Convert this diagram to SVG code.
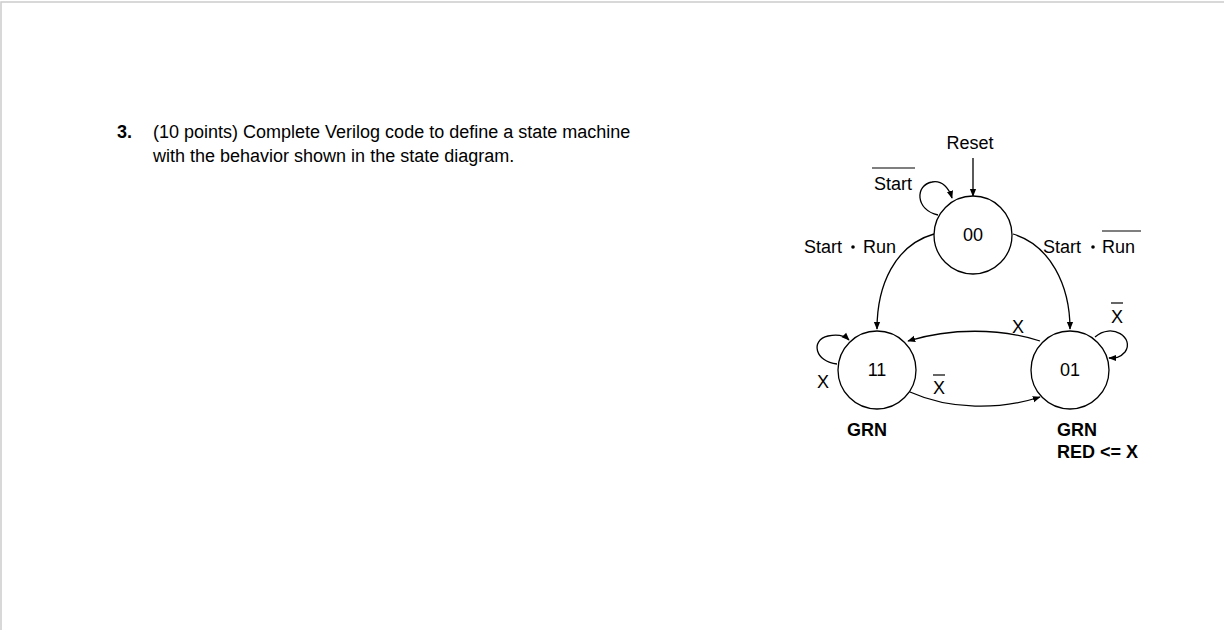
<svg xmlns="http://www.w3.org/2000/svg" width="1224" height="630" viewBox="0 0 1224 630">
<defs><marker id="a" viewBox="0 0 10 10" refX="9" refY="5" markerWidth="8" markerHeight="8" orient="auto" markerUnits="userSpaceOnUse"><path d="M0,1 L10,5 L0,9 z" fill="#000"/></marker></defs>
<style>text{font-family:"Liberation Sans",Arial,sans-serif;font-size:18px;fill:#000}.b{font-weight:bold}.st{fill:#fff;stroke:#000;stroke-width:1.3}.e{fill:none;stroke:#000;stroke-width:1.3;marker-end:url(#a)}.m{text-anchor:middle}.o{stroke:#000;stroke-width:1.2}</style>
<rect x="0" y="0" width="1224" height="630" fill="#fff"/>
<path d="M1,630 V2 H1224" fill="none" stroke="#ccc" stroke-width="1.5"/>
<g id="question"><text x="117" y="138" class="b">3.</text><text x="153" y="138">(10 points) Complete Verilog code to define a state machine</text><text x="153" y="162">with the behavior shown in the state diagram.</text></g>
<g id="connectors">
<path class="e" d="M973,158 V196"/>
<path class="e" d="M938,215 C915,210 915,185 932,182 C942,180 949,188 952,198"/>
<path class="e" d="M934,234 C895,245 877,285 877,329"/>
<path class="e" d="M1013,234 C1050,245 1070,285 1070,329"/>
<path class="e" d="M1040,341 C1000,328 950,328 908,341"/>
<path class="e" d="M910,392 C950,410 1000,410 1040,397"/>
<path class="e" d="M837,364 C815,362 810,340 828,336 C838,334 845,336 849,340"/>
<path class="e" d="M1095,337 C1112,322 1135,338 1125,352 C1120,358 1115,358 1109,358"/>
</g>
<g id="labels">
<text x="970" y="149" class="m">Reset</text>
<text x="893" y="190" class="m">Start</text><line class="o" x1="872" y1="168" x2="915" y2="168"/>
<text x="804" y="253">Start</text><circle cx="853" cy="247" r="1.8"/><text x="863" y="253">Run</text>
<text x="1043" y="253">Start</text><circle cx="1093" cy="247" r="1.8"/><text x="1102" y="253">Run</text><line class="o" x1="1102" y1="231" x2="1141" y2="231"/>
<text x="1018" y="333" class="m">X</text>
<text x="1117" y="323" class="m">X</text><line class="o" x1="1111" y1="303" x2="1123" y2="303"/>
<text x="823" y="388" class="m">X</text>
<text x="939" y="394" class="m">X</text><line class="o" x1="933" y1="375" x2="945" y2="375"/>
<text x="867" y="436" class="m b">GRN</text>
<text x="1057" y="436" class="b">GRN</text><text x="1057" y="458" class="b">RED &lt;= X</text>
</g>
<g id="s00"><circle class="st" cx="973" cy="235" r="39"/><text x="973" y="241" class="m">00</text></g>
<g id="s11"><circle class="st" cx="877" cy="370" r="39"/><text x="877" y="376" class="m">11</text></g>
<g id="s01"><circle class="st" cx="1070" cy="370" r="39"/><text x="1070" y="376" class="m">01</text></g>
</svg>
